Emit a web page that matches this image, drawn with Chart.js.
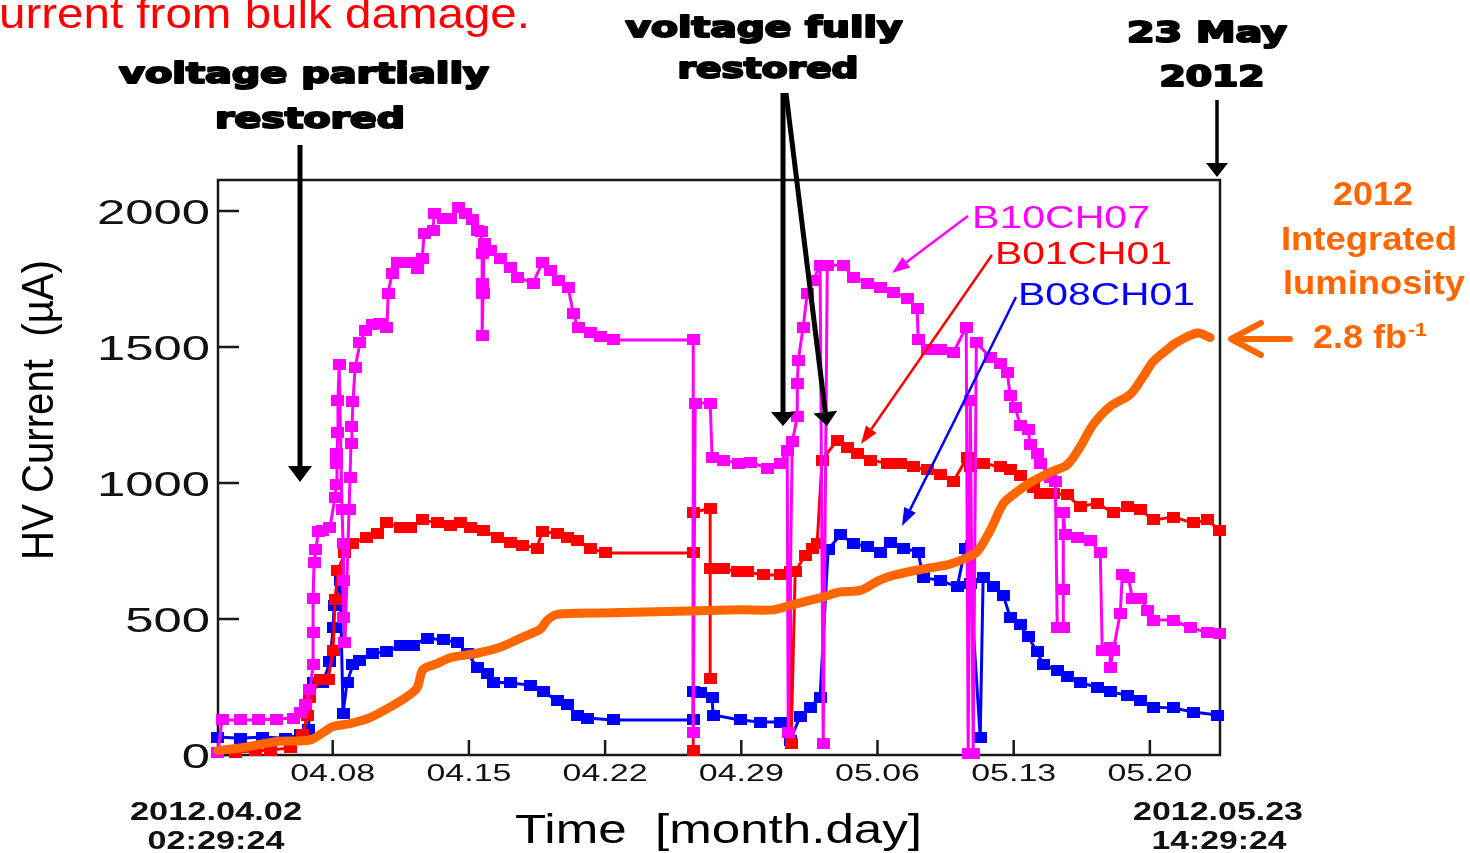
<!DOCTYPE html>
<html>
<head>
<meta charset="utf-8">
<script src="https://cdn.jsdelivr.net/npm/chart.js@4.4.1/dist/chart.umd.min.js"></script>
<style>
  body { margin: 0; background: #fff; }
  #wrap { width: 1470px; height: 853px; position: relative; }
</style>
</head>
<body>
<div id="wrap"><canvas id="chart-1"></canvas></div>
<script>
// time axis in days of April 2012 (May d = 30 + d)
const xMin = 2.104;   // 2012.04.02 02:29:24
const xMax = 53.604;  // 2012.05.23 14:29:24
const yTicks = [0, 500, 1000, 1500, 2000];
const xTicks = [8, 15, 22, 29, 36, 43, 50];
const xTickLabels = ['04.08', '04.15', '04.22', '04.29', '05.06', '05.13', '05.20'];

// B10CH07 (magenta), uA
const b10Days = [2.10, 2.31, 3.24, 4.16, 5.09, 6.01, 6.32, 6.58, 6.83, 6.99,
  6.99, 6.99, 7.04, 7.14, 7.25, 7.50, 7.86, 8.12, 8.17, 8.22,
  8.22, 8.27, 8.27, 8.33, 8.48, 8.53, 8.53, 8.58, 8.63, 8.84,
  8.89, 8.94, 8.99, 9.04, 9.15, 9.40, 9.66, 10.07, 10.43, 10.79,
  10.85, 11.05, 11.31, 11.98, 12.34, 12.60, 12.70, 13.16, 13.21, 13.67,
  14.03, 14.44, 14.80, 15.16, 15.42, 15.63, 15.68, 15.68, 15.68, 15.68,
  15.73, 15.78, 16.09, 16.60, 17.12, 17.48, 18.30, 18.76, 19.17, 19.58,
  20.10, 20.36, 20.61, 21.23, 21.74, 22.41, 26.53, 26.53, 26.63, 27.40,
  27.50, 28.07, 28.84, 29.46, 30.33, 31.00, 31.36, 31.41, 31.62, 31.88,
  31.88, 31.93, 32.18, 32.39, 32.70, 33.05, 33.21, 33.42, 34.24, 34.75,
  35.47, 36.14, 36.81, 37.53, 38.04, 38.09, 38.56, 39.22, 39.89, 40.56,
  40.66, 40.77, 40.92, 41.08, 41.80, 42.31, 42.67, 42.82, 43.08, 43.34,
  43.75, 43.85, 44.21, 44.37, 44.88, 45.14, 45.24, 45.55, 45.55, 45.55,
  45.65, 46.27, 46.94, 47.45, 47.55, 47.96, 47.96, 48.12, 48.48, 48.58,
  48.89, 49.10, 49.51, 49.87, 50.18, 51.21, 52.08, 52.95, 53.60];
const b10Vals = [11, 129, 129, 129, 132, 136, 158, 184, 239, 331,
  452, 577, 706, 754, 820, 827, 838, 948, 993, 1073,
  1110, 1187, 1305, 1434, 901, 779, 643, 507, 415, 901,
  1022, 1147, 1206, 1298, 1423, 1515, 1562, 1581, 1588, 1573,
  1698, 1772, 1812, 1812, 1790, 1827, 1919, 1930, 1992, 1974,
  1974, 2014, 1992, 1967, 1930, 1923, 1845, 1735, 1698, 1544,
  1698, 1882, 1856, 1827, 1794, 1757, 1735, 1809, 1783, 1746,
  1720, 1625, 1570, 1555, 1537, 1526, 1526, 81, 1294, 1294,
  1095, 1084, 1073, 1077, 1055, 1073, 1121, 81, 1151, 1243,
  1367, 1452, 1573, 1698, 1746, 1801, 44, 1801, 1801, 1757,
  1735, 1717, 1702, 1680, 1643, 1526, 1489, 1489, 1478, 1573,
  7, 1305, 7, 1515, 1463, 1441, 1408, 1323, 1276, 1213,
  1195, 1140, 1110, 1073, 1022, 1004, 467, 467, 607, 890,
  809, 798, 790, 743, 386, 397, 323, 386, 522, 662,
  654, 577, 577, 533, 496, 496, 467, 452, 448];

// B01CH01 (red), uA
const b01Days = [2.10, 2.98, 4.01, 4.78, 5.81, 6.47, 6.68, 6.83, 7.35, 7.76,
  8.02, 8.12, 8.27, 8.63, 9.04, 9.76, 10.28, 10.79, 11.46, 11.98,
  12.64, 13.36, 14.03, 14.55, 15.06, 15.73, 16.45, 17.12, 17.78, 18.50,
  18.76, 19.53, 20.05, 20.56, 21.23, 22.00, 26.53, 26.53, 26.53, 27.40,
  27.40, 27.40, 28.07, 28.79, 29.30, 30.12, 31.00, 31.51, 31.56, 31.77,
  32.28, 32.64, 32.90, 33.15, 33.93, 34.44, 34.96, 35.63, 36.50, 37.17,
  37.84, 38.56, 39.22, 39.89, 40.61, 40.77, 41.43, 42.31, 42.82, 43.34,
  44.00, 44.37, 45.03, 45.75, 46.42, 47.29, 48.12, 48.84, 49.51, 50.18,
  51.20, 52.23, 52.95, 53.60];
const b01Vals = [11, 11, 15, 18, 26, 74, 147, 213, 276, 276,
  386, 570, 680, 743, 779, 801, 816, 853, 838, 838,
  864, 853, 845, 856, 838, 827, 801, 783, 772, 761,
  820, 816, 801, 790, 761, 743, 743, 18, 890, 908,
  283, 687, 687, 673, 673, 662, 662, 673, 44, 673,
  735, 761, 779, 1084, 1158, 1132, 1110, 1084, 1073, 1073,
  1059, 1048, 1033, 1004, 1095, 1059, 1073, 1059, 1048, 1029,
  985, 963, 963, 956, 912, 926, 890, 912, 901, 864,
  875, 853, 864, 827];

// B08CH01 (blue), uA
const b08Days = [2.10, 3.24, 4.37, 5.55, 6.32, 6.73, 6.99, 7.50, 7.86, 8.02,
  8.07, 8.38, 8.53, 8.74, 9.04, 9.40, 10.07, 10.79, 11.46, 12.13,
  12.85, 13.67, 14.39, 14.91, 15.42, 15.93, 16.24, 17.12, 18.15, 18.81,
  19.53, 20.05, 20.56, 21.07, 22.41, 26.53, 26.53, 26.88, 27.50, 27.55,
  28.94, 29.97, 31.00, 31.51, 32.02, 32.54, 33.05, 33.46, 34.08, 34.75,
  35.47, 36.14, 36.65, 37.32, 38.09, 38.35, 39.22, 40.10, 40.51, 40.77,
  41.28, 41.43, 41.95, 42.46, 42.82, 43.34, 43.75, 44.21, 44.52, 45.24,
  45.75, 46.42, 47.29, 47.96, 48.84, 49.51, 50.18, 51.20, 52.23, 53.46];
const b08Vals = [66, 62, 66, 62, 74, 92, 265, 268, 342, 467,
  551, 643, 154, 268, 331, 349, 375, 379, 404, 404,
  430, 423, 415, 375, 323, 301, 268, 265, 257, 232,
  202, 184, 147, 136, 129, 129, 232, 228, 210, 147,
  129, 121, 121, 55, 140, 176, 213, 754, 809, 779,
  765, 746, 783, 761, 746, 651, 643, 618, 761, 632,
  66, 654, 618, 588, 507, 478, 434, 379, 331, 312,
  287, 265, 250, 232, 220, 202, 176, 173, 158, 147];

// 2012 integrated luminosity, fb^-1
const lumiDays = [2.10, 3.39, 5.14, 6.83, 7.50, 8.02, 8.89, 9.92, 10.95, 11.82,
  12.34, 12.64, 13.36, 14.03, 15.42, 16.60, 17.63, 18.66, 19.02, 19.53,
  22.41, 28.94, 30.64, 31.51, 33.05, 34.08, 35.11, 36.14, 36.81, 38.20,
  39.58, 40.61, 41.13, 41.79, 42.46, 42.98, 43.85, 44.88, 45.75, 46.42,
  47.09, 47.96, 48.99, 49.66, 50.17, 50.89, 51.41, 52.44, 53.10];
const lumiVals = [0.03, 0.05, 0.09, 0.10, 0.15, 0.19, 0.21, 0.25, 0.32, 0.39,
  0.45, 0.57, 0.61, 0.65, 0.68, 0.72, 0.78, 0.84, 0.90, 0.94,
  0.95, 0.97, 0.97, 1.00, 1.05, 1.09, 1.10, 1.17, 1.20, 1.24,
  1.27, 1.32, 1.36, 1.50, 1.68, 1.74, 1.82, 1.89, 1.94, 2.06,
  2.21, 2.33, 2.41, 2.53, 2.63, 2.71, 2.76, 2.82, 2.79];

const pts = (days, vals) => days.map((d, i) => ({ x: d, y: vals[i] }));

const SANS = '"Liberation Sans", Arial, sans-serif';
const HEAVY = '"DejaVu Sans", sans-serif';

// draw text squeezed/stretched horizontally to a given width
function fitText(ctx, text, x, y, font, width, align, color, sy, stroke) {
  ctx.save();
  ctx.font = font;
  ctx.fillStyle = color;
  ctx.strokeStyle = color;
  ctx.textAlign = 'left';
  ctx.textBaseline = 'alphabetic';
  const sx = width / ctx.measureText(text).width;
  const x0 = align === 'center' ? x - width / 2 : align === 'right' ? x - width : x;
  ctx.translate(x0, y);
  ctx.scale(sx, sy || 1);
  ctx.fillText(text, 0, 0);
  if (stroke) {
    ctx.lineWidth = stroke;
    ctx.lineJoin = 'round';
    ctx.strokeText(text, 0, 0);
  }
  ctx.restore();
}

function scaledText(ctx, text, x, y, font, sx, align, color) {
  ctx.save();
  ctx.font = font;
  ctx.fillStyle = color;
  ctx.textBaseline = 'alphabetic';
  const w = ctx.measureText(text).width * sx;
  const x0 = align === 'center' ? x - w / 2 : align === 'right' ? x - w : x;
  ctx.translate(x0, y);
  ctx.scale(sx, 1);
  ctx.fillText(text, 0, 0);
  ctx.restore();
}

function arrow(ctx, x1, y1, x2, y2, color, lw, headLen, headW) {
  const a = Math.atan2(y2 - y1, x2 - x1);
  const bx = x2 - headLen * Math.cos(a), by = y2 - headLen * Math.sin(a);
  ctx.save();
  ctx.strokeStyle = color;
  ctx.fillStyle = color;
  ctx.lineWidth = lw;
  ctx.beginPath();
  ctx.moveTo(x1, y1);
  ctx.lineTo(bx, by);
  ctx.stroke();
  ctx.beginPath();
  ctx.moveTo(x2, y2);
  ctx.lineTo(bx + headW / 2 * Math.sin(a), by - headW / 2 * Math.cos(a));
  ctx.lineTo(bx - headW / 2 * Math.sin(a), by + headW / 2 * Math.cos(a));
  ctx.closePath();
  ctx.fill();
  ctx.restore();
}

// square marker, a little wider than tall like the original
function box(color) {
  const c = document.createElement('canvas');
  c.width = 13;
  c.height = 11;
  const g = c.getContext('2d');
  g.fillStyle = color;
  g.fillRect(0, 0, 13, 11);
  return c;
}

const framePlugin = {
  id: 'frame',
  beforeDatasetsDraw(chart) {
    const { ctx, chartArea: a, scales } = chart;
    ctx.save();
    ctx.strokeStyle = '#1a1a1a';
    ctx.lineWidth = 2.5;
    ctx.strokeRect(a.left, a.top, a.right - a.left, a.bottom - a.top);
    ctx.beginPath();
    yTicks.forEach(v => {
      const py = scales.y.getPixelForValue(v);
      ctx.moveTo(a.left, py);
      ctx.lineTo(a.left + 21, py);
    });
    xTicks.forEach(d => {
      const px = scales.x.getPixelForValue(d);
      ctx.moveTo(px, a.bottom);
      ctx.lineTo(px, a.bottom - 15);
    });
    ctx.stroke();
    ctx.restore();

    // tick labels
    ctx.save();
    ctx.font = '35px ' + SANS;
    const syx = 113 / ctx.measureText('2000').width;
    yTicks.forEach(v => {
      scaledText(ctx, String(v), a.left - 8, scales.y.getPixelForValue(v) + 13, '35px ' + SANS, syx, 'right', '#111');
    });
    ctx.font = '24px ' + SANS;
    const sxx = 85 / ctx.measureText('04.08').width;
    xTicks.forEach((d, i) => {
      scaledText(ctx, xTickLabels[i], scales.x.getPixelForValue(d), 781, '24px ' + SANS, sxx, 'center', '#111');
    });
    ctx.restore();
  },
  afterDraw(chart) {
    const ctx = chart.ctx;
    // axis titles
    fitText(ctx, 'Time  [month.day]', 515, 843, '41px ' + SANS, 407, 'left', '#000');
    ctx.save();
    ctx.translate(53, 560);
    ctx.rotate(-Math.PI / 2);
    fitText(ctx, 'HV Current  (\u00b5A)', 0, 0, '40px ' + SANS, 300, 'left', '#000', 1.12);
    ctx.restore();

    // start / end dates
    const bold = 'bold 25px ' + SANS;
    fitText(ctx, '2012.04.02', 216, 820, bold, 172, 'center', '#111');
    fitText(ctx, '02:29:24', 216, 849, bold, 137, 'center', '#111');
    fitText(ctx, '2012.05.23', 1218, 820, bold, 170, 'center', '#111');
    fitText(ctx, '14:29:24', 1219, 849, bold, 135, 'center', '#111');

    // red caption cut at the top
    fitText(ctx, 'urrent from bulk damage.', -1, 28, '42px ' + SANS, 531, 'left', '#ff0000');

    // black notes and arrows
    const heavy = 'bold 28px ' + HEAVY;
    fitText(ctx, 'voltage partially', 304, 83, heavy, 370, 'center', '#000', 1, 2);
    fitText(ctx, 'restored', 310, 128, heavy, 190, 'center', '#000', 1, 2);
    fitText(ctx, 'voltage fully', 764, 37, heavy, 277, 'center', '#000', 1, 2);
    fitText(ctx, 'restored', 768, 78, heavy, 181, 'center', '#000', 1, 2);
    fitText(ctx, '23 May', 1207, 42, heavy, 160, 'center', '#000', 1, 2);
    fitText(ctx, '2012', 1212, 86, heavy, 105, 'center', '#000', 1, 2);
    arrow(ctx, 300, 145, 300, 482, '#000', 5, 16, 24);
    arrow(ctx, 783, 93, 783, 426, '#000', 5, 14, 24);
    arrow(ctx, 786, 93, 827, 426, '#000', 5, 14, 24);
    arrow(ctx, 1217, 100, 1217, 177, '#000', 3.5, 14, 22);

    // series labels
    const lab = '31px ' + SANS;
    fitText(ctx, 'B10CH07', 972, 228, lab, 178, 'left', '#ff00ff');
    fitText(ctx, 'B01CH01', 995, 264, lab, 177, 'left', '#ff0000');
    fitText(ctx, 'B08CH01', 1018, 305, lab, 177, 'left', '#0000ff');
    arrow(ctx, 968, 216, 892, 273, '#ff00ff', 2.5, 18, 13);
    arrow(ctx, 992, 255, 861, 444, '#ff0000', 2.5, 18, 13);
    arrow(ctx, 1016, 297, 902, 526, '#0000ff', 2.5, 18, 13);

    // luminosity note
    const ob = 'bold 33px ' + SANS;
    const orange = '#ff6600';
    fitText(ctx, '2012', 1373, 205, ob, 80, 'center', orange);
    fitText(ctx, 'Integrated', 1369, 250, ob, 176, 'center', orange);
    fitText(ctx, 'luminosity', 1374, 294, ob, 182, 'center', orange);
    fitText(ctx, '2.8 fb', 1313, 348, ob, 94, 'left', orange);
    fitText(ctx, '-1', 1408, 336, 'bold 18px ' + SANS, 19, 'left', orange);
    ctx.save();
    ctx.strokeStyle = orange;
    ctx.lineWidth = 6;
    ctx.lineCap = 'round';
    ctx.lineJoin = 'round';
    ctx.beginPath();
    ctx.moveTo(1290, 339);
    ctx.lineTo(1232, 339);
    ctx.moveTo(1261, 323);
    ctx.lineTo(1231, 339);
    ctx.lineTo(1261, 355);
    ctx.stroke();
    ctx.restore();
  }
};

const markers = (color) => ({
  borderColor: color,
  backgroundColor: color,
  pointBackgroundColor: color,
  pointBorderColor: color,
  pointStyle: box(color),
  pointRadius: 6,
  borderWidth: 3,
  tension: 0,
  clip: 12,
  yAxisID: 'y'
});

const ctx_1 = document.getElementById('chart-1').getContext('2d');

new Chart(ctx_1, {
  type: 'line',
  data: {
    datasets: [
      Object.assign({ label: 'B08CH01', data: pts(b08Days, b08Vals), order: 3 }, markers('#0000ff')),
      Object.assign({ label: 'B01CH01', data: pts(b01Days, b01Vals), order: 2 }, markers('#ff0000')),
      Object.assign({ label: 'B10CH07', data: pts(b10Days, b10Vals), order: 1 }, markers('#ff00ff')),
      {
        label: '2012 Integrated luminosity',
        data: pts(lumiDays, lumiVals),
        yAxisID: 'y2',
        order: 0,
        borderColor: '#ff6600',
        borderWidth: 9,
        pointRadius: 0,
        tension: 0.3,
        borderCapStyle: 'round',
        borderJoinStyle: 'round',
        clip: 12
      }
    ]
  },
  options: {
    responsive: true,
    maintainAspectRatio: false,
    animation: false,
    layout: { padding: { left: 218, right: 250, top: 180, bottom: 98 } },
    plugins: {
      legend: { display: false },
      tooltip: { enabled: false }
    },
    scales: {
      x: { type: 'linear', min: xMin, max: xMax, display: false },
      y: { min: 0, max: 2114, display: false },
      y2: { min: 0, max: 3.843, display: false, position: 'right' }
    }
  },
  plugins: [framePlugin]
});
</script>
</body>
</html>
